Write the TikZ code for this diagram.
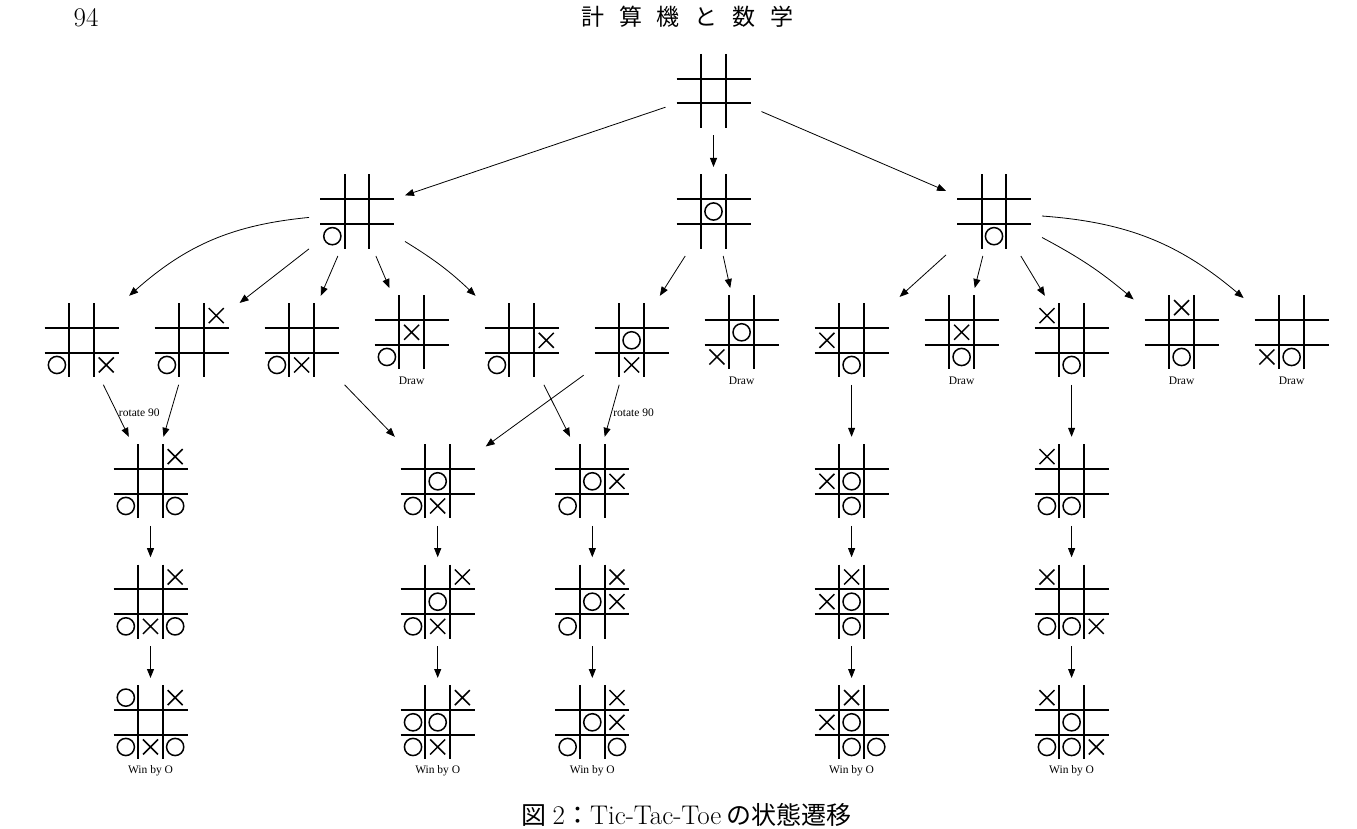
\documentclass[tikz,border=0pt]{standalone}
\usepackage{fontspec}
\usetikzlibrary{arrows.meta}
\newfontfamily\labfont{Liberation Serif}
\newfontfamily\cjk{Noto Sans CJK JP}
\tikzset{
  bn/.style={minimum width=96pt, minimum height=89pt, inner sep=0pt, outer sep=0pt},
  ln/.style={minimum width=96pt, minimum height=104.6pt, inner sep=0pt, outer sep=0pt},
  gridline/.style={line width=1.8pt},
  xo/.style={line width=1.5pt},
  arr/.style={-{Triangle[length=9pt,width=7pt]}, line width=0.8pt},
  lab/.style={font=\labfont\fontsize{11.5}{13}\selectfont, inner sep=0pt},
  rot/.style={font=\labfont\fontsize{11.5}{13}\selectfont, inner sep=1.5pt, anchor=west}
}
\newcommand\tttgrid[3]{%
  \begin{scope}[shift={(#1,#2)}]
    \draw[gridline] (-12.33,-37) -- (-12.33,37) (12.33,-37) -- (12.33,37)
                    (-37,-12.33) -- (37,-12.33) (-37,12.33) -- (37,12.33);
    \foreach \mk/\cc/\rr in {#3}{%
      \if O\mk \draw[xo] ({(\cc-1)*24.67},{(\rr-1)*24.67}) circle[radius=8.6pt];\fi
      \if X\mk \draw[xo] ({(\cc-1)*24.67-7.5},{(\rr-1)*24.67-7.5}) -- ++(15,15)
                         ({(\cc-1)*24.67-7.5},{(\rr-1)*24.67+7.5}) -- ++(15,-15);\fi
    }
  \end{scope}}
\newcommand\bnode[4]{\node[bn] (#1) at (#2,#3) {}; \tttgrid{#2}{#3}{#4}}
\newcommand\lbnode[5]{\node[ln] (#1) at (#2,{#3+8}) {}; \tttgrid{#2}{#3}{#4}
  \node[lab] (#1-l) at (#2,{#3+48}) {#5};}
\begin{document}
\begin{tikzpicture}[x=1pt,y=-1pt]
\useasboundingbox (0,0) rectangle (1357,829);
\fill[white] (0,0) rectangle (1357,829);
% header and caption
\node (pg) at (86,18) {\fontsize{27}{30}\selectfont 94};
\node (hd) at (687.5,17) {\cjk\fontsize{23}{26}\selectfont 計\hspace{15pt}算\hspace{15pt}機\hspace{15pt}と\hspace{15pt}数\hspace{15pt}学};
\node (cap) at (686.5,815) {\fontsize{27}{30}\selectfont{\cjk\fontsize{25}{28}\selectfont 図}\hspace{6pt}2{\cjk\fontsize{25}{28}\selectfont ：}Tic-Tac-Toe\hspace{5pt}{\cjk\fontsize{25}{28}\selectfont の状態遷移}};
% rows 1-2
\bnode{root}{713.5}{91}{N/0/0}
\bnode{L}{357}{211.5}{O/0/2}
\bnode{M}{713.5}{211.5}{O/1/1}
\bnode{R}{994}{211.5}{O/1/2}
% row 3
\bnode{b1}{81.6}{340.3}{O/0/2, X/2/2}
\bnode{b2}{191.6}{340.3}{X/2/0, O/0/2}
\bnode{b3}{301.6}{340.3}{O/0/2, X/1/2}
\lbnode{b4}{411.6}{332.3}{X/1/1, O/0/2}{Draw}
\bnode{b5}{521.6}{340.3}{X/2/1, O/0/2}
\bnode{b6}{631.6}{340.3}{O/1/1, X/1/2}
\lbnode{b7}{741.6}{332.3}{O/1/1, X/0/2}{Draw}
\bnode{b8}{851.6}{340.3}{X/0/1, O/1/2}
\lbnode{b9}{961.6}{332.3}{X/1/1, O/1/2}{Draw}
\bnode{b10}{1071.6}{340.3}{X/0/0, O/1/2}
\lbnode{b11}{1181.6}{332.3}{X/1/0, O/1/2}{Draw}
\lbnode{b12}{1291.6}{332.3}{X/0/2, O/1/2}{Draw}
% columns
\bnode{c1a}{150.5}{481.3}{X/2/0, O/0/2, O/2/2}
\bnode{c1b}{150.5}{601.7}{X/2/0, O/0/2, X/1/2, O/2/2}
\lbnode{c1c}{150.5}{722.3}{O/0/0, X/2/0, O/0/2, X/1/2, O/2/2}{Win by O}
\bnode{c2a}{437.7}{481.3}{O/1/1, O/0/2, X/1/2}
\bnode{c2b}{437.7}{601.7}{X/2/0, O/1/1, O/0/2, X/1/2}
\lbnode{c2c}{437.7}{722.3}{X/2/0, O/0/1, O/1/1, O/0/2, X/1/2}{Win by O}
\bnode{c3a}{592.3}{481.3}{O/1/1, X/2/1, O/0/2}
\bnode{c3b}{592.3}{601.7}{X/2/0, O/1/1, X/2/1, O/0/2}
\lbnode{c3c}{592.3}{722.3}{X/2/0, O/1/1, X/2/1, O/0/2, O/2/2}{Win by O}
\bnode{c4a}{851.6}{481.3}{X/0/1, O/1/1, O/1/2}
\bnode{c4b}{851.6}{601.7}{X/1/0, X/0/1, O/1/1, O/1/2}
\lbnode{c4c}{851.6}{722.3}{X/1/0, X/0/1, O/1/1, O/1/2, O/2/2}{Win by O}
\bnode{c5a}{1071.6}{481.3}{X/0/0, O/0/2, O/1/2}
\bnode{c5b}{1071.6}{601.7}{X/0/0, O/0/2, O/1/2, X/2/2}
\lbnode{c5c}{1071.6}{722.3}{X/0/0, O/1/1, O/0/2, O/1/2, X/2/2}{Win by O}
% connectors
\draw[arr] (root) -- (L);
\draw[arr] (root) -- (M);
\draw[arr] (root) -- (R);
\draw[arr] (L) to[bend right=18] (b1);
\draw[arr] (L) -- (b2);
\draw[arr] (L) -- (b3);
\draw[arr] (L) -- (b4);
\draw[arr] (L) to[bend left=6] (b5);
\draw[arr] (M) -- (b6);
\draw[arr] (M) -- (b7);
\draw[arr] (R) -- (b8);
\draw[arr] (R) -- (b9);
\draw[arr] (R) -- (b10);
\draw[arr] (R) to[bend left=6] (b11);
\draw[arr] (R) to[bend left=18] (b12);
\draw[arr] (b1) -- node[rot, pos=0.54] (r1) {rotate 90} (c1a);
\draw[arr] (b2) -- (c1a);
\draw[arr] (b3) -- (c2a);
\draw[arr] (b6) -- (c2a);
\draw[arr] (b5) -- (c3a);
\draw[arr] (b6) -- node[rot, pos=0.54] (r2) {rotate 90} (c3a);
\draw[arr] (b8) -- (c4a);
\draw[arr] (b10) -- (c5a);
\foreach \k in {1,...,5}{
  \draw[arr] (c\k a) -- (c\k b);
  \draw[arr] (c\k b) -- (c\k c);
}
\end{tikzpicture}
\end{document}
